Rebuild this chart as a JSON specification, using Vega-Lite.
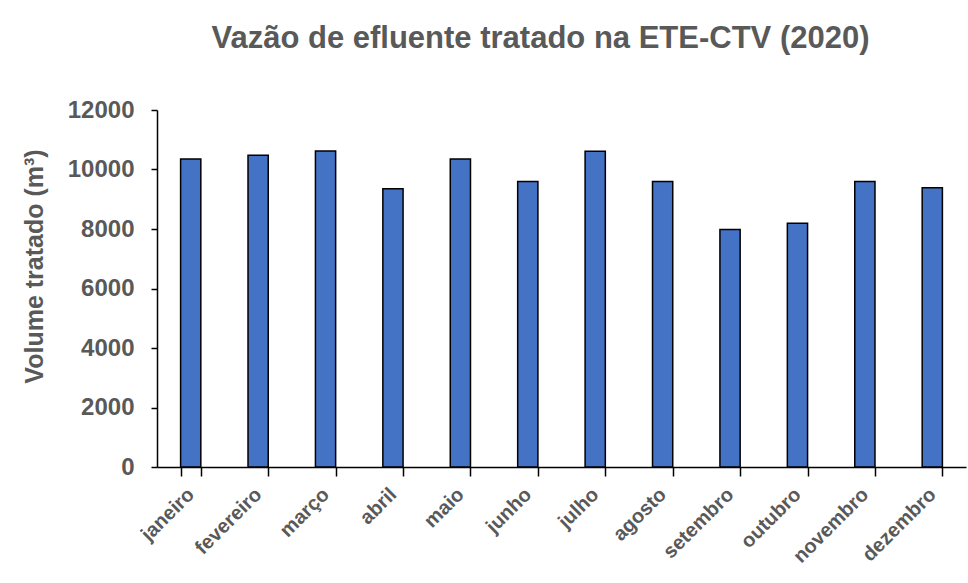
{
  "$schema": "https://vega.github.io/schema/vega-lite/v6.json",
  "width": 809,
  "height": 357,
  "autosize": "none",
  "padding": {"left": 157, "top": 110, "right": 2, "bottom": 116},
  "background": "white",
  "title": {
    "text": "Vazão de efluente tratado na ETE-CTV (2020)",
    "font": "Liberation Sans",
    "fontSize": 31,
    "fontWeight": "bold",
    "color": "#595959",
    "anchor": "middle",
    "dx": -21,
    "offset": 43
  },
  "data": {
    "values": [
      {"mes": "janeiro", "volume": 10350},
      {"mes": "fevereiro", "volume": 10480},
      {"mes": "março", "volume": 10620},
      {"mes": "abril", "volume": 9350},
      {"mes": "maio", "volume": 10350},
      {"mes": "junho", "volume": 9600},
      {"mes": "julho", "volume": 10610},
      {"mes": "agosto", "volume": 9600},
      {"mes": "setembro", "volume": 7980},
      {"mes": "outubro", "volume": 8190},
      {"mes": "novembro", "volume": 9600},
      {"mes": "dezembro", "volume": 9390}
    ]
  },
  "mark": {"type": "bar", "color": "#4472C4", "stroke": "#000000", "strokeWidth": 1.5},
  "encoding": {
    "x": {
      "field": "mes",
      "type": "nominal",
      "sort": null,
      "scale": {"paddingInner": 0.7, "paddingOuter": 0.35},
      "axis": {
        "title": null,
        "labelAngle": -45,
        "labelAlign": "right",
        "labelBaseline": "middle",
        "labelFont": "Liberation Sans",
        "labelFontSize": 20,
        "labelFontWeight": "bold",
        "labelColor": "#595959",
        "labelPadding": 15,
        "tickBand": "extent",
        "tickColor": "#000000",
        "tickSize": 9,
        "tickWidth": 1.5,
        "domainColor": "#000000",
        "domainWidth": 1.5,
        "grid": false
      }
    },
    "y": {
      "field": "volume",
      "type": "quantitative",
      "scale": {"domain": [0, 12000], "nice": false},
      "axis": {
        "title": "Volume tratado (m³)",
        "titleFont": "Liberation Sans",
        "titleFontSize": 25,
        "titleFontWeight": "bold",
        "titleColor": "#595959",
        "titlePadding": 20,
        "titleY": 156,
        "values": [0, 2000, 4000, 6000, 8000, 10000, 12000],
        "format": "d",
        "labelFont": "Liberation Sans",
        "labelFontSize": 24,
        "labelFontWeight": "bold",
        "labelColor": "#595959",
        "labelPadding": 17,
        "tickColor": "#000000",
        "tickSize": 6,
        "tickWidth": 1.5,
        "domainColor": "#000000",
        "domainWidth": 1.5,
        "grid": false
      }
    }
  },
  "config": {"view": {"stroke": null}}
}
